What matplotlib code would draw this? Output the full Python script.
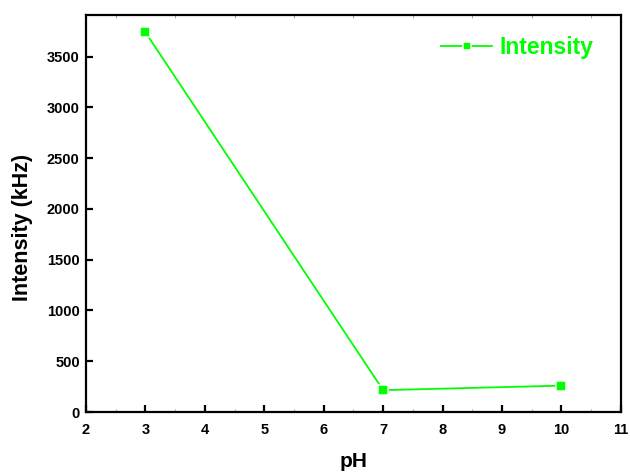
import matplotlib
matplotlib.use("Agg")
import matplotlib.pyplot as plt
from matplotlib.ticker import MultipleLocator

plt.rcParams['font.family'] = ['Liberation Sans', 'DejaVu Sans']
plt.rcParams['font.weight'] = 'bold'

ph = [3, 7, 10]
intensity = [3740, 215, 260]
x_ticks = [2, 3, 4, 5, 6, 7, 8, 9, 10, 11]
y_ticks = [0, 500, 1000, 1500, 2000, 2500, 3000, 3500]

green = '#00ff00'

fig = plt.figure(figsize=(6.3, 4.75), dpi=100)
ax = fig.add_axes([0.1365, 0.1326, 0.849, 0.8358])

# white marker rim leaves a small gap where the line meets each point
ax.plot(ph, intensity, color=green, lw=1.3, marker='s', markersize=7.0,
        markeredgecolor='white', markeredgewidth=1.1, markerfacecolor=green,
        label='Intensity')

ax.set_xlim(2, 11)
ax.set_ylim(0, 3910)
ax.set_xticks(x_ticks)
ax.set_yticks(y_ticks)
ax.xaxis.set_minor_locator(MultipleLocator(0.5))

for s in ax.spines.values():
    s.set_linewidth(1.6)

ax.tick_params(axis='both', which='major', direction='in', length=5, width=1.6,
               labelsize=10.5, top=False, right=False)
ax.tick_params(axis='x', which='major', pad=8)
ax.tick_params(axis='y', which='major', pad=4.5)
ax.tick_params(axis='x', which='minor', direction='in', length=2, width=0.8,
               color='#aaaaaa', top=True, bottom=True)
ax.tick_params(axis='y', which='minor', left=False, right=False)
for lbl in ax.get_xticklabels() + ax.get_yticklabels():
    lbl.set_fontweight('bold')

ax.set_xlabel('pH', fontsize=15, fontweight='bold', labelpad=11)
ax.set_ylabel('Intensity (kHz)', fontsize=15.5, fontweight='bold')
ax.yaxis.set_label_coords(-0.099, 0.466)

leg = ax.legend(loc='center right', bbox_to_anchor=(0.9495, 0.918),
                frameon=False, fontsize=16.5, handlelength=2.2,
                handletextpad=0.35, borderaxespad=0, borderpad=0,
                markerscale=0.8)
for t in leg.get_texts():
    t.set_color(green)
    t.set_fontweight('bold')

fig.savefig('out.png', dpi=100)
